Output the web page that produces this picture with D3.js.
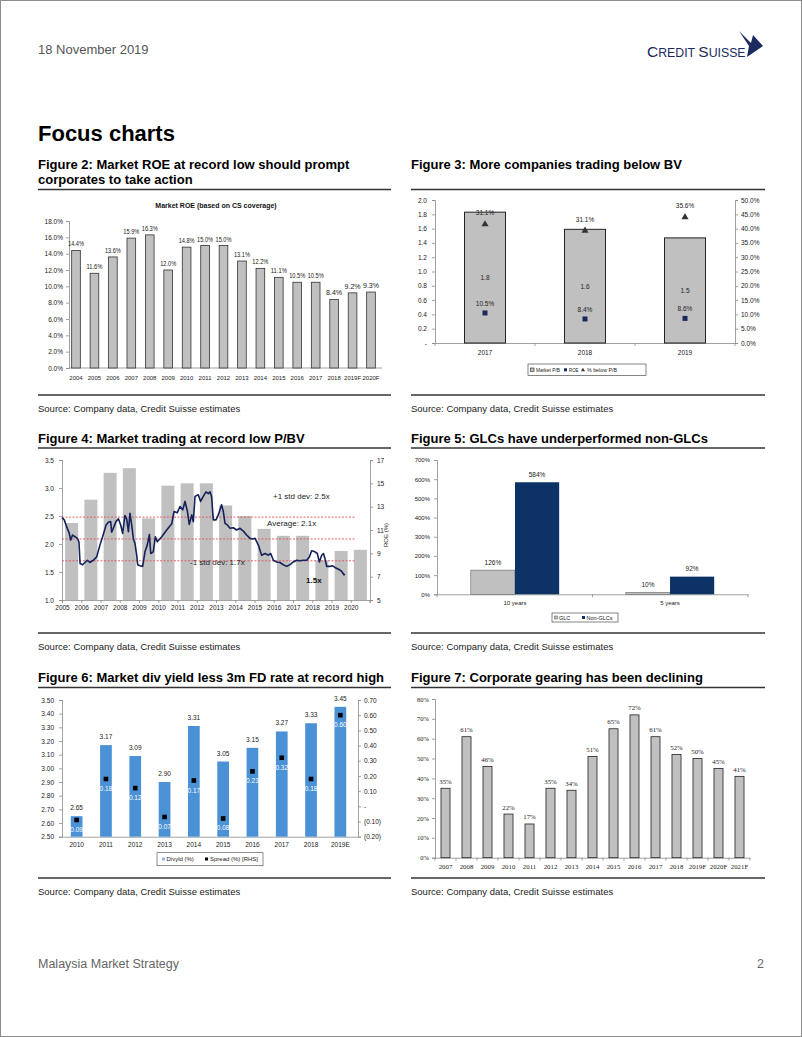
<!DOCTYPE html>
<html><head><meta charset="utf-8">
<script src="https://cdn.jsdelivr.net/npm/d3@7"></script>
<style>html,body{margin:0;padding:0;background:#fff;} svg{display:block;}</style>
</head><body>
<svg id="page" width="802" height="1037"></svg>
<script>
// ---------------- DATA ----------------
const pageDate = "18 November 2019";
const pageHeading = "Focus charts";
const footerLeft = "Malaysia Market Strategy";
const footerRight = "2";
const sourceText = "Source: Company data, Credit Suisse estimates";

// Figure 2
const fig2Title = ["Figure 2: Market ROE at record low should prompt", "corporates to take action"];
const fig2ChartTitle = "Market ROE (based on CS coverage)";
const roeYears = ["2004","2005","2006","2007","2008","2009","2010","2011","2012","2013","2014","2015","2016","2017","2018","2019F","2020F"];
const roeValues = [14.4,11.6,13.6,15.9,16.3,12.0,14.8,15.0,15.0,13.1,12.2,11.1,10.5,10.5,8.4,9.2,9.3];
const roeTicks = [0,2,4,6,8,10,12,14,16,18];

// Figure 3
const fig3Title = "Figure 3: More companies trading below BV";
const pbYears = ["2017","2018","2019"];
const marketPB = [1.83,1.59,1.47];
const marketPBLabels = ["1.8","1.6","1.5"];
const roeF3 = [0.105,0.084,0.086];
const roeF3Labels = ["10.5%","8.4%","8.6%"];
const belowPB = [0.415,0.393,0.44];
const belowPBLabels = ["31.1%","31.1%","35.6%"];
const fig3LeftTicks = [0,0.2,0.4,0.6,0.8,1.0,1.2,1.4,1.6,1.8,2.0];
const fig3RightTicks = [0,0.05,0.10,0.15,0.20,0.25,0.30,0.35,0.40,0.45,0.50];
const fig3Legend = ["Market P/B","ROE","% below P/B"];

// Figure 4
const fig4Title = "Figure 4: Market trading at record low P/BV";
const roeBarYears = [2005,2006,2007,2008,2009,2010,2011,2012,2013,2014,2015,2016,2017,2018,2019,2020];
const roeBarValues = [11.6,13.6,15.9,16.3,12.0,14.8,15.0,15.0,13.1,12.2,11.1,10.5,10.5,8.4,9.2,9.3];
const pbvDates = [2005.0,2005.12,2005.24,2005.38,2005.45,2005.55,2005.68,2005.8,2005.88,2005.94,2006.07,2006.19,2006.32,2006.45,2006.63,2006.8,2006.97,2007.11,2007.29,2007.41,2007.53,2007.58,2007.7,2007.8,2007.93,2008.05,2008.15,2008.27,2008.36,2008.45,2008.53,2008.62,2008.71,2008.79,2008.88,2008.93,2009.05,2009.19,2009.31,2009.43,2009.54,2009.61,2009.74,2009.85,2009.95,2010.18,2010.44,2010.7,2010.82,2010.99,2011.13,2011.27,2011.39,2011.51,2011.61,2011.74,2011.82,2011.91,2012.08,2012.2,2012.34,2012.48,2012.6,2012.69,2012.77,2012.86,2013.0,2013.12,2013.29,2013.38,2013.47,2013.59,2013.73,2013.9,2014.07,2014.25,2014.42,2014.59,2014.77,2014.9,2015.03,2015.2,2015.37,2015.55,2015.72,2015.84,2015.98,2016.15,2016.32,2016.5,2016.67,2016.84,2017.02,2017.19,2017.36,2017.54,2017.71,2017.85,2017.97,2018.14,2018.26,2018.37,2018.49,2018.58,2018.66,2018.75,2018.92,2019.06,2019.23,2019.41,2019.53,2019.65,2019.7];
const pbvValues = [2.47,2.43,2.31,2.19,2.07,2.16,2.13,2.10,2.04,1.65,1.63,1.67,1.71,1.67,1.71,1.77,1.98,2.13,2.34,2.39,2.40,2.21,2.31,2.40,2.45,2.34,2.19,2.51,2.45,2.22,2.55,2.34,2.09,2.01,1.80,1.63,1.61,1.60,1.86,1.98,2.17,1.83,1.86,2.13,2.04,2.13,2.25,2.36,2.58,2.56,2.67,2.61,2.76,2.59,2.35,2.52,2.40,2.85,2.88,2.76,2.85,2.93,2.90,2.93,2.85,2.43,2.43,2.52,2.70,2.58,2.37,2.34,2.28,2.29,2.25,2.28,2.23,2.16,2.10,2.09,2.10,1.98,1.80,1.83,1.80,1.83,1.71,1.68,1.67,1.63,1.60,1.63,1.68,1.71,1.70,1.71,1.71,1.77,1.88,1.86,1.83,1.68,1.80,1.83,1.74,1.60,1.60,1.61,1.57,1.54,1.51,1.45,1.46];
const stdLines = [2.48,2.09,1.70];
const stdLabels = ["+1 std dev: 2.5x","Average: 2.1x","-1 std dev: 1.7x","1.5x"];
const fig4LeftTicks = [1.0,1.5,2.0,2.5,3.0,3.5];
const fig4RightTicks = [5,7,9,11,13,15,17];
const fig4XTicks = [2005,2006,2007,2008,2009,2010,2011,2012,2013,2014,2015,2016,2017,2018,2019,2020];

// Figure 5
const fig5Title = "Figure 5: GLCs have underperformed non-GLCs";
const perfPeriods = ["10 years","5 years"];
const perfSeries = ["GLC","Non-GLCs"];
const glcValues = [126,10];
const nonGlcValues = [584,92];
const fig5Ticks = [0,100,200,300,400,500,600,700];

// Figure 6
const fig6Title = "Figure 6: Market div yield less 3m FD rate at record high";
const dyYears = ["2010","2011","2012","2013","2014","2015","2016","2017","2018","2019E"];
const divYield = [2.65,3.17,3.09,2.90,3.31,3.05,3.15,3.27,3.33,3.45];
const spread = [-0.09,0.18,0.12,-0.07,0.17,-0.08,0.23,0.32,0.18,0.60];
const fig6LeftTicks = [2.5,2.6,2.7,2.8,2.9,3.0,3.1,3.2,3.3,3.4,3.5];
const fig6RightTicks = [-0.2,-0.1,0,0.1,0.2,0.3,0.4,0.5,0.6,0.7];
const fig6Legend = ["Divyld (%)","Spread (%) [RHS]"];

// Figure 7
const fig7Title = "Figure 7: Corporate gearing has been declining";
const gearYears = ["2007","2008","2009","2010","2011","2012","2013","2014","2015","2016","2017","2018","2019F","2020F","2021F"];
const gearValues = [35,61,46,22,17,35,34,51,65,72,61,52,50,45,41];
const fig7Ticks = [0,10,20,30,40,50,60,70,80];

// ---------------- STYLE ----------------
const SANS = "'Liberation Sans', Arial, Helvetica, sans-serif";
const SERIF = "'Liberation Serif', 'Times New Roman', serif";
const GRAYBAR = "#c0c0c0";
const NAVY = "#1a2a5c";
const AXIS = "#8a8a8a";

const svg = d3.select("#page");
svg.append("rect").attr("x",0.5).attr("y",0.5).attr("width",801).attr("height",1036)
  .attr("fill","#fff").attr("stroke","#8c8c8c").attr("stroke-width",1);

function txt(g, x, y, s, size, opts={}) {
  const t = g.append("text").attr("x",x).attr("y",y).text(s)
    .style("font-family", opts.family || SANS)
    .style("font-size", size+"px")
    .style("font-weight", opts.weight || "normal")
    .attr("fill", opts.fill || "#222")
    .attr("text-anchor", opts.anchor || "start");
  if (opts.len) t.attr("textLength", opts.len).attr("lengthAdjust","spacingAndGlyphs");
  return t;
}
function styleAxis(sel, size, family) {
  sel.selectAll(".domain").attr("stroke", AXIS).attr("stroke-width",0.8);
  sel.selectAll(".tick line").attr("stroke", AXIS).attr("stroke-width",0.8);
  sel.selectAll(".tick text").attr("fill","#222").style("font-size",size+"px").style("font-family",family||SANS);
}
function hline(x1,x2,y,stroke,w){ svg.append("line").attr("x1",x1).attr("x2",x2).attr("y1",y).attr("y2",y).attr("stroke",stroke).attr("stroke-width",w); }

// ---------------- HEADER / FOOTER ----------------
txt(svg, 38, 54, pageDate, 13, {fill:"#555"});
const logo = svg.append("text").attr("x",647).attr("y",57).attr("fill","#1b2b5e").style("font-family",SANS);
logo.append("tspan").style("font-size","15.5px").text("C");
logo.append("tspan").style("font-size","12.3px").text("REDIT ");
logo.append("tspan").style("font-size","15.5px").text("S");
logo.append("tspan").style("font-size","12.3px").text("UISSE");
svg.append("path").attr("d","M739,31 L751,43 L753,35 L763,46 L747,57 L749,46 Z").attr("fill","#1b2b5e");

txt(svg, 38, 141, pageHeading, 22, {weight:"bold", fill:"#000"});
txt(svg, 38, 968, footerLeft, 12.5, {fill:"#666"});
txt(svg, 764, 968, footerRight, 12.5, {fill:"#666", anchor:"end"});

// titles, rules, sources
const L0 = 38, L1 = 391, R0 = 411, R1 = 765;
txt(svg, L0, 169, fig2Title[0], 13, {weight:"bold", fill:"#000"});
txt(svg, L0, 184, fig2Title[1], 13, {weight:"bold", fill:"#000"});
txt(svg, R0, 169, fig3Title, 13, {weight:"bold", fill:"#000"});
txt(svg, L0, 443, fig4Title, 13, {weight:"bold", fill:"#000"});
txt(svg, R0, 443, fig5Title, 13, {weight:"bold", fill:"#000"});
txt(svg, L0, 682, fig6Title, 13, {weight:"bold", fill:"#000"});
txt(svg, R0, 682, fig7Title, 13, {weight:"bold", fill:"#000"});
[189.5, 448, 687.5].forEach(y => { hline(L0,L1,y,"#333",1.3); hline(R0,R1,y,"#333",1.3); });
[395, 633, 878].forEach(y => { hline(L0,L1,y,"#333",1.3); hline(R0,R1,y,"#333",1.3); });
[412, 650, 895].forEach(y => { txt(svg, L0, y, sourceText, 9.5, {fill:"#222"}); txt(svg, R0, y, sourceText, 9.5, {fill:"#222"}); });

// ---------------- FIGURE 2 ----------------
{
  const g = svg.append("g");
  const x = d3.scaleBand().domain(roeYears).range([69,378]).paddingInner(0.53).paddingOuter(0.145);
  const y = d3.scaleLinear().domain([0,18]).range([368,221]);
  txt(g, 216, 208, fig2ChartTitle, 7, {weight:"bold", anchor:"middle", fill:"#111"});
  const ay = g.append("g").attr("transform","translate(69,0)")
    .call(d3.axisLeft(y).tickValues(roeTicks).tickFormat(d=>d.toFixed(1)+"%").tickSize(3).tickPadding(3));
  styleAxis(ay, 6.5);
  g.append("line").attr("x1",69).attr("x2",382).attr("y1",y(0)).attr("y2",y(0)).attr("stroke",AXIS).attr("stroke-width",0.8);
  g.selectAll("rect.b").data(roeValues).join("rect").attr("class","b")
    .attr("x",(d,i)=>x(roeYears[i])).attr("width",x.bandwidth())
    .attr("y",d=>y(d)).attr("height",d=>y(0)-y(d))
    .attr("fill",GRAYBAR).attr("stroke","#333").attr("stroke-width",0.8);
  g.selectAll("text.v").data(roeValues).join("text").attr("class","v")
    .attr("x",(d,i)=>x(roeYears[i])+x.bandwidth()/2).attr("y",d=>y(d)-4)
    .attr("text-anchor","middle").style("font-size","6.3px").style("font-family",SANS).attr("fill","#222")
    .attr("textLength",16).attr("lengthAdjust","spacingAndGlyphs")
    .text(d=>d.toFixed(1)+"%");
  g.selectAll("text.xl").data(roeYears).join("text").attr("class","xl")
    .attr("x",d=>x(d)+x.bandwidth()/2).attr("y",380)
    .attr("text-anchor","middle").style("font-size","6px").style("font-family",SANS).attr("fill","#222")
    .text(d=>d);
}

// ---------------- FIGURE 3 ----------------
{
  const g = svg.append("g");
  const x = d3.scaleBand().domain(pbYears).range([435,735]).paddingInner(0.59).paddingOuter(0.295);
  const yL = d3.scaleLinear().domain([0,2]).range([343,200]);
  const yR = d3.scaleLinear().domain([0,0.5]).range([343,200]);
  const al = g.append("g").attr("transform","translate(435,0)")
    .call(d3.axisLeft(yL).tickValues(fig3LeftTicks).tickFormat(d=>d===0?"-":d.toFixed(1)).tickSize(3).tickPadding(5));
  styleAxis(al, 6.5);
  const ar = g.append("g").attr("transform","translate(735,0)")
    .call(d3.axisRight(yR).tickValues(fig3RightTicks).tickFormat(d=>(d*100).toFixed(1)+"%").tickSize(3).tickPadding(3));
  styleAxis(ar, 6.5);
  const ax = g.append("g").attr("transform","translate(0,343)")
    .call(d3.axisBottom(x).tickSize(0).tickPadding(7));
  styleAxis(ax, 6.5);
  [0,1,2,3].forEach(i=>{
    const xx = 435 + i*x.step();
    g.append("line").attr("x1",xx).attr("x2",xx).attr("y1",343).attr("y2",346).attr("stroke",AXIS).attr("stroke-width",0.8);
  });
  g.selectAll("rect.b").data(marketPB).join("rect").attr("class","b")
    .attr("x",(d,i)=>x(pbYears[i])).attr("width",x.bandwidth())
    .attr("y",d=>yL(d)).attr("height",d=>yL(0)-yL(d))
    .attr("fill",GRAYBAR).attr("stroke","#222").attr("stroke-width",1);
  g.selectAll("text.pb").data(marketPB).join("text").attr("class","pb")
    .attr("x",(d,i)=>x(pbYears[i])+x.bandwidth()/2).attr("y",d=>(yL(d)+yL(0))/2+2.5)
    .attr("text-anchor","middle").style("font-size","6.5px").style("font-family",SANS).attr("fill","#222")
    .text((d,i)=>marketPBLabels[i]);
  g.selectAll("rect.roe").data(roeF3).join("rect").attr("class","roe")
    .attr("x",(d,i)=>x(pbYears[i])+x.bandwidth()/2-2.5).attr("y",d=>yR(d)-2.5)
    .attr("width",5).attr("height",5).attr("fill",NAVY);
  g.selectAll("text.roe").data(roeF3).join("text").attr("class","roe")
    .attr("x",(d,i)=>x(pbYears[i])+x.bandwidth()/2).attr("y",d=>yR(d)-7)
    .attr("text-anchor","middle").style("font-size","6.5px").style("font-family",SANS).attr("fill","#222")
    .text((d,i)=>roeF3Labels[i]);
  g.selectAll("path.tri").data(belowPB).join("path").attr("class","tri")
    .attr("transform",(d,i)=>`translate(${x(pbYears[i])+x.bandwidth()/2},${yR(d)})`)
    .attr("d",d3.symbol(d3.symbolTriangle).size(22)).attr("fill","#333");
  g.selectAll("text.tri").data(belowPB).join("text").attr("class","tri")
    .attr("x",(d,i)=>x(pbYears[i])+x.bandwidth()/2).attr("y",d=>yR(d)-9)
    .attr("text-anchor","middle").style("font-size","6.5px").style("font-family",SANS).attr("fill","#222")
    .text((d,i)=>belowPBLabels[i]);
  // legend
  g.append("rect").attr("x",528).attr("y",364).attr("width",118).attr("height",11.5).attr("fill","#fff").attr("stroke","#333").attr("stroke-width",0.6);
  g.append("rect").attr("x",530.5).attr("y",368).attr("width",3.5).attr("height",3.5).attr("fill",GRAYBAR).attr("stroke","#222").attr("stroke-width",0.6);
  txt(g, 536, 372, fig3Legend[0], 5.6, {len:24});
  g.append("rect").attr("x",564).attr("y",368.3).attr("width",3).attr("height",3).attr("fill",NAVY);
  txt(g, 569, 372, fig3Legend[1], 5.6, {len:9.5});
  g.append("path").attr("transform","translate(583,370)").attr("d",d3.symbol(d3.symbolTriangle).size(7)).attr("fill","#333");
  txt(g, 587, 372, fig3Legend[2], 5.6, {len:30});
}

// ---------------- FIGURE 4 ----------------
{
  const g = svg.append("g");
  const x = d3.scaleLinear().domain([2005,2021]).range([62,370]);
  const yL = d3.scaleLinear().domain([1,3.5]).range([600,460]);
  const yR = d3.scaleLinear().domain([5,17]).range([600,460]);
  const bw = 13;
  g.selectAll("rect.b").data(roeBarValues).join("rect").attr("class","b")
    .attr("x",(d,i)=>x(roeBarYears[i]+0.5)-bw/2).attr("width",bw)
    .attr("y",d=>yR(d)).attr("height",d=>yR(5)-yR(d)).attr("fill",GRAYBAR);
  const al = g.append("g").attr("transform","translate(62,0)")
    .call(d3.axisLeft(yL).tickValues(fig4LeftTicks).tickFormat(d=>d.toFixed(1)).tickSize(3).tickPadding(5));
  styleAxis(al, 6.5);
  const ar = g.append("g").attr("transform","translate(370,0)")
    .call(d3.axisRight(yR).tickValues(fig4RightTicks).tickFormat(d=>d).tickSize(3).tickPadding(4));
  styleAxis(ar, 6.5);
  const ax = g.append("g").attr("transform","translate(0,600)")
    .call(d3.axisBottom(x).tickValues(fig4XTicks).tickFormat(d=>d).tickSize(3).tickPadding(2));
  styleAxis(ax, 6.5);
  g.append("line").attr("x1",x(2021)).attr("x2",x(2021)).attr("y1",600).attr("y2",603).attr("stroke",AXIS).attr("stroke-width",0.8);
  g.append("text").attr("transform",`translate(388,535) rotate(-90)`).attr("text-anchor","middle")
    .style("font-size","6px").style("font-family",SANS).attr("fill","#222").text("ROE (%)");
  g.selectAll("line.std").data(stdLines).join("line").attr("class","std")
    .attr("x1",x(2005)).attr("x2",x(2020.25)).attr("y1",d=>yL(d)).attr("y2",d=>yL(d))
    .attr("stroke","#e0505a").attr("stroke-width",0.9).attr("stroke-dasharray","2,1.5");
  const pts = pbvDates.map((d,i)=>[d,pbvValues[i]]);
  g.append("path").datum(pts).attr("d",d3.line().x(d=>x(d[0])).y(d=>yL(d[1])))
    .attr("fill","none").attr("stroke","#14215a").attr("stroke-width",1.6).attr("stroke-linejoin","round");
  txt(g, x(2015.96), yL(2.80), stdLabels[0], 8);
  txt(g, x(2015.65), yL(2.32), stdLabels[1], 8);
  txt(g, x(2011.65), yL(1.62), stdLabels[2], 8);
  txt(g, x(2017.68), yL(1.31), stdLabels[3], 8, {weight:"bold", fill:"#111"});
}

// ---------------- FIGURE 5 ----------------
{
  const g = svg.append("g");
  const x = d3.scaleBand().domain(perfPeriods).range([437,748]).paddingInner(0.43).paddingOuter(0.218);
  const xs = d3.scaleBand().domain(perfSeries).range([0,x.bandwidth()]);
  const y = d3.scaleLinear().domain([0,700]).range([594.3,460]);
  const al = g.append("g").attr("transform","translate(437,0)")
    .call(d3.axisLeft(y).tickValues(fig5Ticks).tickFormat(d=>d+"%").tickSize(3).tickPadding(4));
  styleAxis(al, 6);
  const ax = g.append("g").attr("transform","translate(0,594.3)")
    .call(d3.axisBottom(x).tickSize(0).tickPadding(6));
  styleAxis(ax, 6);
  [0,1,2].forEach(i=>{
    const xx = 437 + i*(748-437)/2;
    g.append("line").attr("x1",xx).attr("x2",xx).attr("y1",594.3).attr("y2",597.3).attr("stroke",AXIS).attr("stroke-width",0.8);
  });
  const series = [glcValues, nonGlcValues];
  const fills = [GRAYBAR, "#0d3265"];
  series.forEach((vals,s)=>{
    g.selectAll("rect.s"+s).data(vals).join("rect").attr("class","s"+s)
      .attr("x",(d,i)=>x(perfPeriods[i])+xs(perfSeries[s])).attr("width",xs.bandwidth())
      .attr("y",d=>y(d)).attr("height",d=>y(0)-y(d))
      .attr("fill",fills[s]).attr("stroke",s===0?"#666":"none").attr("stroke-width",0.6);
    g.selectAll("text.s"+s).data(vals).join("text").attr("class","s"+s)
      .attr("x",(d,i)=>x(perfPeriods[i])+xs(perfSeries[s])+xs.bandwidth()/2).attr("y",d=>y(d)-5.5)
      .attr("text-anchor","middle").style("font-size","6.5px").style("font-family",SANS).attr("fill","#222")
      .text(d=>d+"%");
  });
  g.append("rect").attr("x",552).attr("y",613).attr("width",66).attr("height",9).attr("fill","#fff").attr("stroke","#333").attr("stroke-width",0.6);
  g.append("rect").attr("x",554.5).attr("y",616).attr("width",3).attr("height",3).attr("fill",GRAYBAR).attr("stroke","#555").attr("stroke-width",0.5);
  txt(g, 559, 619.8, perfSeries[0], 5.5);
  g.append("rect").attr("x",582).attr("y",616).attr("width",3).attr("height",3).attr("fill","#0d3265");
  txt(g, 586.5, 619.8, perfSeries[1], 5.5);
}

// ---------------- FIGURE 6 ----------------
{
  const g = svg.append("g");
  const x = d3.scaleBand().domain(dyYears).range([62,355]).paddingInner(0.6).paddingOuter(0.3);
  const yL = d3.scaleLinear().domain([2.5,3.5]).range([836.7,700]);
  const yR = d3.scaleLinear().domain([-0.2,0.7]).range([836.7,700]);
  const fmtR = d => Math.abs(d)<1e-9 ? "-" : (d<0 ? "("+Math.abs(d).toFixed(2)+")" : d.toFixed(2));
  const al = g.append("g").attr("transform","translate(62,0)")
    .call(d3.axisLeft(yL).tickValues(fig6LeftTicks).tickFormat(d=>d.toFixed(2)).tickSize(3).tickPadding(5));
  styleAxis(al, 6.5);
  const ar = g.append("g").attr("transform","translate(358,0)")
    .call(d3.axisRight(yR).tickValues(fig6RightTicks).tickFormat(fmtR).tickSize(3).tickPadding(3));
  styleAxis(ar, 6.5);
  const ax = g.append("g").attr("transform","translate(0,836.7)")
    .call(d3.axisBottom(x).tickSize(0).tickPadding(6));
  styleAxis(ax, 6.5);
  ax.select(".domain").attr("d","M62,0.5H358");
  g.selectAll("rect.b").data(divYield).join("rect").attr("class","b")
    .attr("x",(d,i)=>x(dyYears[i])).attr("width",x.bandwidth())
    .attr("y",d=>yL(d)).attr("height",d=>yL(2.5)-yL(d)).attr("fill","#4b91d6");
  g.selectAll("text.b").data(divYield).join("text").attr("class","b")
    .attr("x",(d,i)=>x(dyYears[i])+x.bandwidth()/2).attr("y",d=>yL(d)-6)
    .attr("text-anchor","middle").style("font-size","6.5px").style("font-family",SANS).attr("fill","#222")
    .text(d=>d.toFixed(2));
  g.selectAll("text.sp").data(spread).join("text").attr("class","sp")
    .attr("x",(d,i)=>x(dyYears[i])+x.bandwidth()/2).attr("y",d=>yR(d)+12)
    .attr("text-anchor","middle").style("font-size","6.5px").style("font-family",SANS).attr("fill","#fff")
    .text(fmtR);
  g.selectAll("rect.sp").data(spread).join("rect").attr("class","sp")
    .attr("x",(d,i)=>x(dyYears[i])+x.bandwidth()/2-2.3).attr("y",d=>yR(d)-2.3)
    .attr("width",4.6).attr("height",4.6).attr("fill","#000");
  g.append("rect").attr("x",157).attr("y",852.7).attr("width",106).attr("height",13).attr("fill","#fff").attr("stroke","#444").attr("stroke-width",0.6);
  g.append("rect").attr("x",162).attr("y",857.5).attr("width",3).attr("height",3).attr("fill","#8fb8e6");
  txt(g, 166.5, 861.3, fig6Legend[0], 6);
  g.append("rect").attr("x",205).attr("y",857.5).attr("width",3).attr("height",3).attr("fill","#000");
  txt(g, 210, 861.3, fig6Legend[1], 6);
}

// ---------------- FIGURE 7 ----------------
{
  const g = svg.append("g");
  const x = d3.scaleBand().domain(gearYears).range([435,750]).paddingInner(0.57).paddingOuter(0.285);
  const y = d3.scaleLinear().domain([0,80]).range([857.7,699]);
  const al = g.append("g").attr("transform","translate(435,0)")
    .call(d3.axisLeft(y).tickValues(fig7Ticks).tickFormat(d=>d+"%").tickSize(3).tickPadding(3));
  styleAxis(al, 6.5, SERIF);
  const ax = g.append("g").attr("transform","translate(0,857.7)")
    .call(d3.axisBottom(x).tickSize(0).tickPadding(6));
  styleAxis(ax, 6.8, SERIF);
  ax.select(".domain").attr("d","M435,0.5H750");
  for (let i=0;i<=gearYears.length;i++){
    const xx = 435 + i*x.step();
    g.append("line").attr("x1",xx).attr("x2",xx).attr("y1",857.7).attr("y2",860.7).attr("stroke",AXIS).attr("stroke-width",0.8);
  }
  g.selectAll("rect.b").data(gearValues).join("rect").attr("class","b")
    .attr("x",(d,i)=>x(gearYears[i])).attr("width",x.bandwidth())
    .attr("y",d=>y(d)).attr("height",d=>y(0)-y(d))
    .attr("fill",GRAYBAR).attr("stroke","#222").attr("stroke-width",0.8);
  g.selectAll("text.v").data(gearValues).join("text").attr("class","v")
    .attr("x",(d,i)=>x(gearYears[i])+x.bandwidth()/2).attr("y",d=>y(d)-4.5)
    .attr("text-anchor","middle").style("font-size","6.8px").style("font-family",SERIF).attr("fill","#222")
    .text(d=>d+"%");
}
</script>
</body></html>
